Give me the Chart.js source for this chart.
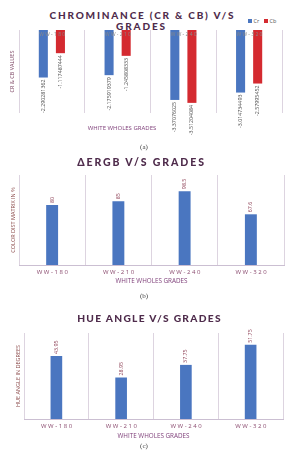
<!DOCTYPE html>
<html><head><meta charset="utf-8">
<script src="https://cdn.jsdelivr.net/npm/chart.js@4.4.1/dist/chart.umd.min.js"></script>
<style>
body{margin:0;width:289px;height:459px;background:#fff;position:relative;overflow:hidden;font-family:'Open Sans',sans-serif}
.t{position:absolute;left:0;width:289px;text-align:center;font-family:Lato,'Open Sans',sans-serif;font-weight:900;color:#4f2c4c;white-space:nowrap}
.box{position:absolute;left:0}
.cap{position:absolute;width:20px;text-align:center;font-family:'Liberation Serif',serif;font-size:7px;line-height:8px;color:#444}
.lg{position:absolute;top:18px;font-size:5.5px;line-height:7px;color:#555}
.sw{display:inline-block;width:4px;height:4px;margin-right:1.5px;vertical-align:0px}
.xt{position:absolute;font-size:6px;line-height:8px;color:#7d3d78;white-space:nowrap;text-align:center;width:120px}
</style></head>
<body>
<div class="t" style="top:10px;font-size:10px;line-height:10px;letter-spacing:1.8px;left:-2px">CHROMINANCE (CR &amp; CB) V/S</div>
<div class="t" style="top:21px;font-size:10px;line-height:10px;letter-spacing:1.9px;left:-3px">GRADES</div>
<div class="lg" style="left:248px"><span class="sw" style="background:#4a76c0"></span>Cr</div>
<div class="lg" style="left:264px"><span class="sw" style="background:#d42a30"></span>Cb</div>
<div class="box" style="top:28px"><canvas id="ca" width="289" height="114"></canvas></div>
<div class="xt" style="left:62px;top:124px">WHITE WHOLES GRADES</div>
<div class="cap" style="left:134px;top:143px">(a)</div>

<div class="t" style="top:156px;font-size:10.5px;line-height:12px;letter-spacing:1.9px;left:-3px">ΔERGB V/S GRADES</div>
<div class="box" style="top:170px"><canvas id="cb" width="289" height="118"></canvas></div>
<div class="cap" style="left:134px;top:292px">(b)</div>

<div class="t" style="top:312px;font-size:10.2px;line-height:12px;letter-spacing:1.3px;left:5px">HUE ANGLE V/S GRADES</div>
<div class="box" style="top:325px"><canvas id="cc" width="289" height="116"></canvas></div>
<div class="cap" style="left:134px;top:442px">(c)</div>

<script>
const categories = ['WW-180', 'WW-210', 'WW-240', 'WW-320'];
const crValues = [-2.290281362, -2.175919379, -3.37076025, -3.014734493];
const cbValues = [-1.117487444, -1.245808333, -3.51204084, -2.57995452];
const ergbValues = [80, 85, 98.5, 67.6];
const hueValues = [43.95, 28.95, 37.75, 51.75];

const BLUE = '#4a76c0', RED = '#d42a30', GRID = '#ddd4e0', AXIS = '#cbbfd2';

const valueLabels = {
  id: 'valueLabels',
  afterDatasetsDraw(chart, args, opts) {
    const ctx = chart.ctx;
    ctx.save();
    ctx.font = opts.font;
    ctx.fillStyle = opts.color;
    ctx.textBaseline = 'middle';
    chart.data.datasets.forEach((ds, i) => {
      chart.getDatasetMeta(i).data.forEach((el, j) => {
        const v = ds.data[j];
        ctx.save();
        ctx.translate(el.x, el.y + (v < 0 ? opts.gap : -opts.gap));
        ctx.rotate(-Math.PI / 2);
        ctx.textAlign = v < 0 ? 'right' : 'left';
        ctx.fillText(String(v), 0, 0);
        ctx.restore();
      });
    });
    ctx.restore();
  }
};

const catLabels = {
  id: 'catLabels',
  afterDraw(chart, args, opts) {
    const xs = chart.scales.x, ctx = chart.ctx, ca = chart.chartArea;
    ctx.save();
    ctx.font = opts.font;
    ctx.fillStyle = opts.color;
    ctx.textAlign = 'center';
    ctx.textBaseline = 'middle';
    ctx.letterSpacing = opts.spacing;
    const y = opts.atTop ? ca.top + opts.dy : ca.bottom + opts.dy;
    chart.data.labels.forEach((l, i) => {
      ctx.fillText(l, xs.getPixelForValue(i) + 1, y);
    });
    ctx.restore();
  }
};

function base(pad) {
  return {
    responsive: false, animation: false, devicePixelRatio: 1,
    layout: { padding: pad },
    plugins: { legend: { display: false }, tooltip: { enabled: false } }
  };
}

// Chart A
const oa = base({ top: 2, right: 7, left: 0, bottom: 0 });
oa.plugins.valueLabels = { font: '5.3px "Open Sans"', color: '#4a4a4a', gap: 2 };
oa.plugins.catLabels = { font: '5px "Open Sans"', color: '#888', spacing: '1.3px', atTop: true, dy: 4.7 };
oa.scales = {
  x: {
    grid: { offset: true, color: GRID, drawTicks: false },
    border: { display: false },
    ticks: { display: false },
    afterFit(s) { s.height = 29; }
  },
  y: {
    min: -4, max: 0,
    ticks: { display: false },
    grid: { display: false },
    border: { display: false },
    title: { display: true, text: 'CR & CB VALUES', color: '#7a4060', font: { size: 5.5, family: 'Open Sans' }, padding: { top: 9.2, bottom: 0 } },
    afterFit(s) { s.width = 19; }
  }
};
new Chart(document.getElementById('ca'), {
  type: 'bar',
  data: {
    labels: categories,
    datasets: [
      { label: 'Cr', data: crValues, backgroundColor: BLUE, categoryPercentage: 0.52, barPercentage: 0.53 },
      { label: 'Cb', data: cbValues, backgroundColor: RED, categoryPercentage: 0.52, barPercentage: 0.53 }
    ]
  },
  options: oa,
  plugins: [valueLabels, catLabels]
});

function single(id, values, max, yTitle, pad, yWidth, yTitlePad, xHeight, xTitlePad) {
  const o = base(pad);
  o.plugins.valueLabels = { font: '5.3px "Open Sans"', color: '#8a3a50', gap: 2 };
  o.plugins.catLabels = { font: '6px "Open Sans"', color: '#8a4a6e', spacing: '1.6px', atTop: false, dy: 7 };
  o.scales = {
    x: {
      grid: { offset: true, color: GRID, drawTicks: false },
      border: { display: true, color: AXIS },
      ticks: { display: false },
      title: { display: true, text: 'WHITE WHOLES GRADES', color: '#7d3d78', font: { size: 6.3, family: 'Open Sans' }, padding: { top: 0, bottom: xTitlePad } },
      afterFit(s) { s.height = xHeight; }
    },
    y: {
      min: 0, max: max,
      ticks: { display: false },
      grid: { display: false },
      border: { display: false },
      title: { display: true, text: yTitle, color: '#8b4a4a', font: { size: 5.5, family: 'Open Sans' }, padding: { top: yTitlePad, bottom: 0 } },
      afterFit(s) { s.width = yWidth; }
    }
  };
  new Chart(document.getElementById(id), {
    type: 'bar',
    data: {
      labels: categories,
      datasets: [{ data: values, backgroundColor: BLUE, categoryPercentage: 0.9, barPercentage: 0.2 }]
    },
    options: o,
    plugins: [valueLabels, catLabels]
  });
}

single('cb', ergbValues, 120, 'COLOR DIST MATRIX IN %', { top: 5, right: 5, left: 0, bottom: 0 }, 19, 9.7, 23, 3.1);
single('cc', hueValues, 60, 'HUE ANGLE IN DEGREES', { top: 8, right: 6, left: 0, bottom: 0 }, 24, 15.4, 22, 1.4);
</script>
</body></html>
